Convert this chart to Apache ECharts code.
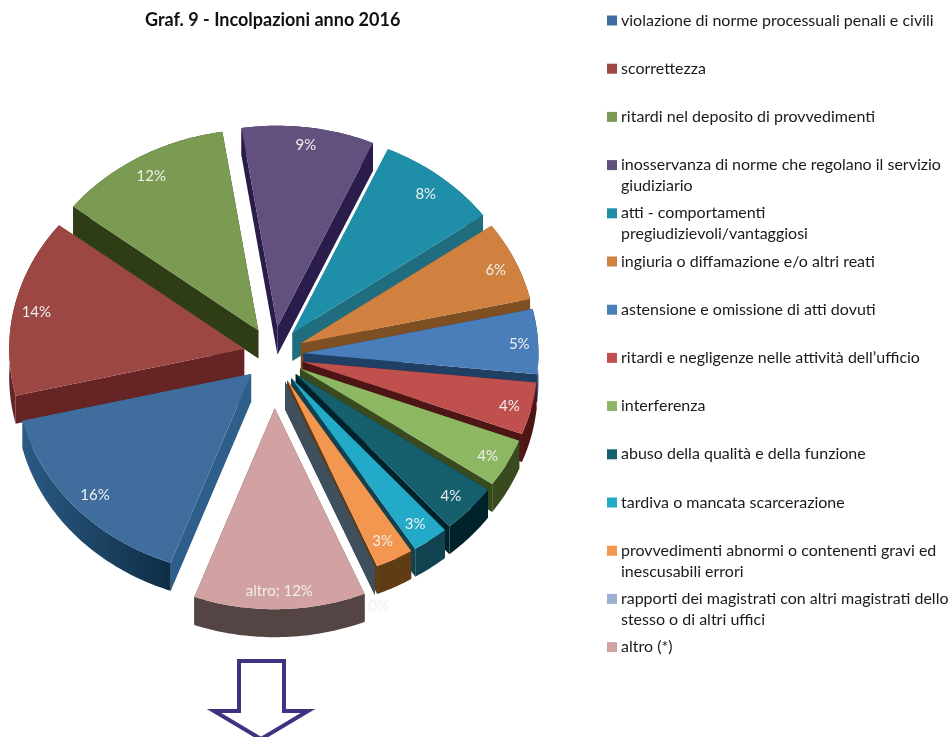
<!DOCTYPE html>
<html>
<head>
<meta charset="utf-8">
<style>
  html, body { margin: 0; padding: 0; background: #fff; }
  #chart { width: 950px; height: 737px; }
</style>
<script src="https://cdn.jsdelivr.net/npm/echarts@6/dist/echarts.min.js"></script>
</head>
<body>
<div id="chart"></div>
<script>
const categories = [
  "violazione di norme processuali penali e civili",
  "scorrettezza",
  "ritardi nel deposito di provvedimenti",
  "inosservanza di norme che regolano il servizio\ngiudiziario",
  "atti - comportamenti\npregiudizievoli/vantaggiosi",
  "ingiuria o diffamazione e/o altri reati",
  "astensione e omissione di atti dovuti",
  "ritardi e negligenze nelle attività dell’ufficio",
  "interferenza",
  "abuso della qualità e della funzione",
  "tardiva o mancata scarcerazione",
  "provvedimenti abnormi o contenenti gravi ed\ninescusabili errori",
  "rapporti dei magistrati con altri magistrati dello\nstesso o di altri uffici",
  "altro (*)"
];
// valori stimati dagli angoli delle fette, le etichette li arrotondano
const values = [15.7, 14.3, 12.0, 9.1, 8.4, 6.4, 5.2, 4.2, 3.9, 3.9, 2.5, 2.6, 0, 11.8];
const labels = ["16%", "14%", "12%", "9%", "8%", "6%", "5%", "4%", "4%", "4%", "3%", "3%", "0%", "altro; 12%"];

const topColors = ["#3f6d9e", "#9c4744", "#7b9b53", "#62507f", "#1f8fa9", "#d0803f", "#4a7ebb", "#c0504d", "#8db762", "#16606e", "#22aac8", "#f39650", "#9bb0d3", "#d2a2a2"];
const wallColors = ["#2e5e8a", "#662424", "#2f3d17", "#2a1c4b", "#206d7f", "#7e4f23", "#1f3f63", "#4e1515", "#3a4a1f", "#00222b", "#10424f", "#603c15", "#3f4f5c", "#554444"];
const explode = [30, 30, 30, 30, 30, 30, 30, 30, 30, 30, 30, 30, 30, 56];
const labelRadius = [0.89, 0.905, 0.9, 0.92, 0.9, 0.91, 0.92, 0.905, 0.905, 0.89, 0.89, 0.89, 1.2, 0.9];
const labelShiftX = [0, 0, 0, 0, 0, 0, 0, 0, 0, 0, 0, 0, -14, 0];

// geometria della torta inclinata
const cx = 273.5, cy = 355, rx = 235, ry = 201, depth = 28, firstAngle = 200;

const total = values.reduce((a, b) => a + b, 0);
const starts = [];
values.reduce((acc, v, i) => { starts[i] = acc; return acc + v / total * 360; }, firstAngle);

function arcPoints(a0, a1, ox, oy, dy) {
  const pts = [];
  const n = Math.max(1, Math.ceil(Math.abs(a1 - a0)));
  for (let k = 0; k <= n; k++) {
    const a = (a0 + (a1 - a0) * k / n) * Math.PI / 180;
    pts.push([ox + rx * Math.sin(a), oy - ry * Math.cos(a) + dy]);
  }
  return pts;
}

function renderSlice(i) {
  const a0 = starts[i], a1 = a0 + values[i] / total * 360, mid = (a0 + a1) / 2 * Math.PI / 180;
  const ox = cx + explode[i] * Math.sin(mid);
  const oy = cy - explode[i] * 0.95 * Math.cos(mid);
  const arc = arcPoints(a0, a1, ox, oy, 0);
  const low = arcPoints(a0, a1, ox, oy, depth);
  const first = arc[0], last = arc[arc.length - 1];
  const wall = pts => ({ type: "polygon", shape: { points: pts }, style: { fill: wallColors[i] } });
  const outerFill = i === 0
    ? { type: "linear", x: 0, y: 0, x2: 1, y2: 0, colorStops: [{ offset: 0, color: "#2b5a84" }, { offset: 1, color: "#0f2d45" }] }
    : wallColors[i];
  return {
    type: "group",
    children: [
      wall([[ox, oy], first, [first[0], first[1] + depth], [ox, oy + depth]]),
      wall([[ox, oy], last, [last[0], last[1] + depth], [ox, oy + depth]]),
      { type: "polygon", shape: { points: arc.concat(low.slice().reverse()) }, style: { fill: outerFill } },
      { type: "polygon", shape: { points: [[ox, oy]].concat(arc) }, style: { fill: topColors[i] } },
      {
        type: "text",
        x: ox + rx * labelRadius[i] * Math.sin(mid) + labelShiftX[i],
        y: oy - ry * labelRadius[i] * Math.cos(mid) + 2,
        style: {
          text: labels[i],
          fill: values[i] === 0 ? "#f0f0f0" : "#eeeeee",
          font: "15px Lato",
          align: "center",
          verticalAlign: "middle"
        }
      }
    ]
  };
}

// ordine di disegno: prima le fette in fondo
const rank = values.map((v, i) => i).sort((a, b) => {
  const m = j => (starts[j] + values[j] / total * 180) * Math.PI / 180;
  return Math.cos(m(b)) - Math.cos(m(a));
});

const chart = echarts.init(document.getElementById("chart"));
chart.setOption({
  animation: false,
  backgroundColor: "#fff",
  title: {
    text: "Graf. 9 - Incolpazioni anno 2016",
    left: 145,
    top: 11,
    padding: 0,
    textStyle: { fontFamily: "Lato", fontWeight: "bold", fontSize: 18, color: "#111" }
  },
  legend: {
    data: categories,
    orient: "vertical",
    left: 607,
    top: -11,
    padding: 0,
    itemGap: -14.8,
    itemWidth: 10,
    itemHeight: 10,
    icon: "rect",
    selectedMode: false,
    formatter: n => "\n" + n + (n.indexOf("\n") < 0 ? "\n" : ""),
    textStyle: { fontFamily: "Lato", fontSize: 16, lineHeight: 21, color: "#1a1a1a", padding: [0, 0, 0, -1] }
  },
  series: categories.map((name, i) => ({
    type: "custom",
    name: name,
    coordinateSystem: "none",
    silent: true,
    z: 2 + rank.indexOf(i),
    itemStyle: { color: topColors[i] },
    data: [values[i]],
    renderItem: () => renderSlice(i)
  })),
  graphic: [{
    type: "polygon",
    shape: { points: [[239, 661], [284, 661], [284, 711], [308, 711], [261, 739], [214, 711], [239, 711]] },
    style: { fill: "#fff", stroke: "#3c3480", lineWidth: 4 }
  }]
});
</script>
</body>
</html>
